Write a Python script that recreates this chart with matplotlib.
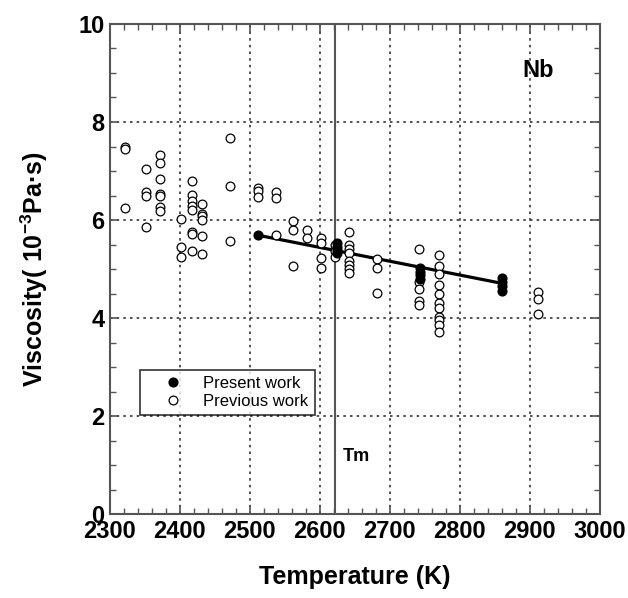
import matplotlib
matplotlib.use('Agg')
import matplotlib.pyplot as plt
from matplotlib.ticker import MultipleLocator

plt.rcParams['font.family'] = ['Liberation Sans', 'DejaVu Sans']
plt.rcParams['mathtext.fontset'] = 'custom'
plt.rcParams['mathtext.bf'] = 'Liberation Sans:bold'
plt.rcParams['mathtext.rm'] = 'Liberation Sans:bold'
plt.rcParams['mathtext.default'] = 'bf'

# Previous work (open circles), grouped by temperature column
prev_t = ([2321] * 3 + [2352] * 4 + [2372] * 7 + [2402] * 3 + [2418] * 8
          + [2432] * 6 + [2472] * 3 + [2512] * 3 + [2537] * 3 + [2561] * 3
          + [2582] * 2 + [2602] * 4 + [2621] * 3 + [2642] * 8 + [2681] * 3
          + [2742] * 5 + [2771] * 11 + [2912] * 3)
prev_v = [7.50, 7.45, 6.24,
          7.04, 6.58, 6.50, 5.86,
          7.33, 7.17, 6.84, 6.54, 6.50, 6.27, 6.18,
          6.03, 5.45, 5.24,
          6.80, 6.52, 6.38, 6.29, 6.20, 5.75, 5.72, 5.37,
          6.33, 6.13, 6.08, 6.01, 5.67, 5.31,
          7.68, 6.69, 5.57,
          6.66, 6.60, 6.47,
          6.58, 6.44, 5.69,
          5.99, 5.80, 5.06,
          5.79, 5.64,
          5.63, 5.54, 5.22, 5.02,
          5.50, 5.36, 5.24,
          5.75, 5.50, 5.41, 5.33, 5.16, 5.09, 5.00, 4.92,
          5.21, 5.03, 4.52,
          5.41, 4.73, 4.59, 4.35, 4.26,
          5.29, 5.06, 4.90, 4.68, 4.49, 4.30, 4.20, 4.03, 3.97, 3.87, 3.71,
          4.54, 4.39, 4.08]

# Present work (filled circles)
pres_t = [2512, 2625, 2625, 2625, 2625, 2743, 2743, 2743, 2743,
          2860, 2860, 2860, 2860]
pres_v = [5.69, 5.54, 5.46, 5.39, 5.33, 5.02, 4.95, 4.88, 4.80,
          4.82, 4.74, 4.66, 4.56]

# fitted line for present work
fit_t = [2512, 2860]
fit_v = [5.69, 4.71]

tm = 2622

fig = plt.figure(figsize=(6.28, 5.98), dpi=100)
ax = fig.add_axes([0.175, 0.140, 0.780, 0.820])

ax.grid(True, which='major', linestyle=(0, (1.5, 2.5)), color='#333333', linewidth=1.2)
ax.axvline(tm, color='#555555', linewidth=1.5, zorder=2)

ax.plot(fit_t, fit_v, color='black', linewidth=2.3, zorder=3)
ax.plot(prev_t, prev_v, 'o', mfc='white', mec='black', ms=6.3, mew=0.9,
        label='Previous work', zorder=4)
ax.plot(pres_t, pres_v, 'o', mfc='black', mec='black', ms=6.3,
        label='Present work', zorder=5)

ax.set_xlim(2300, 3000)
ax.set_ylim(0, 10)
ax.xaxis.set_major_locator(MultipleLocator(100))
ax.xaxis.set_minor_locator(MultipleLocator(20))
ax.yaxis.set_major_locator(MultipleLocator(2))
ax.yaxis.set_minor_locator(MultipleLocator(0.5))
ax.tick_params(which='both', direction='in', top=True, right=True, color='#555555')
ax.tick_params(which='major', length=6, width=1.2, labelsize=17, pad=4)
ax.tick_params(which='minor', length=4, width=1.0)
for lab in ax.get_xticklabels() + ax.get_yticklabels():
    lab.set_fontweight('bold')
for sp in ax.spines.values():
    sp.set_color('#555555')
    sp.set_linewidth(1.5)

ax.set_xlabel('Temperature (K)', fontsize=18, fontweight='bold', labelpad=16)
ax.set_ylabel(r'Viscosity( 10$^{-3}$Pa·s)', fontsize=18, fontweight='bold', labelpad=20)

ax.text(2912, 9.05, 'Nb', fontsize=17, fontweight='bold', ha='center', va='center')
ax.text(2633, 1.17, 'Tm', fontsize=13, fontweight='bold', ha='left', va='center')

handles, labels = ax.get_legend_handles_labels()
leg = ax.legend(handles[::-1], labels[::-1], loc='upper left',
                bbox_to_anchor=(0.061, 0.295), borderaxespad=0, fontsize=12,
                frameon=True, fancybox=False, edgecolor='black', borderpad=0.4,
                handletextpad=0.2, labelspacing=0.15, handlelength=3.2)
leg.get_frame().set_linewidth(1.2)
leg.set_zorder(6)

fig.savefig('out.png', dpi=100)
